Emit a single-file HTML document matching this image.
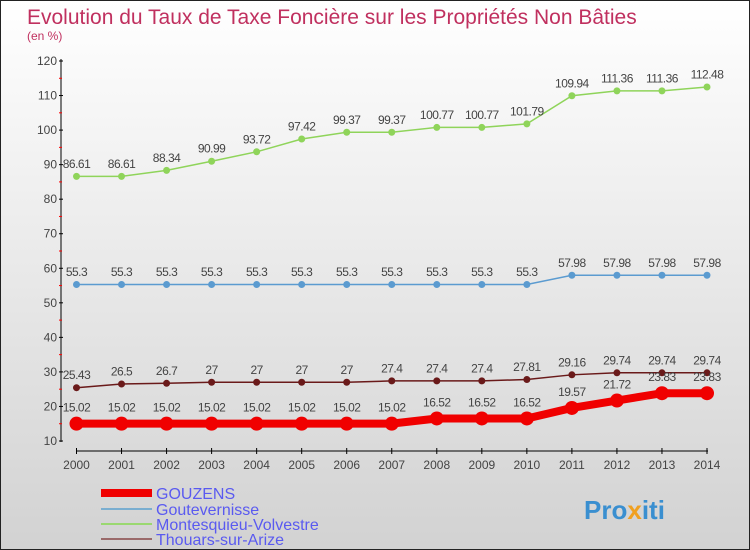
<!DOCTYPE html>
<html><head><meta charset="utf-8"><style>
body{margin:0}
#c{width:750px;height:550px;position:relative;overflow:hidden;background:linear-gradient(#fff,#d2d2d2);border:1px solid #222;box-sizing:border-box;font-family:"Liberation Sans",sans-serif}
</style></head><body>
<div id="c">
<svg id="s" width="750" height="550" style="position:absolute;left:0;top:0">
<text x="26" y="23" font-size="21" fill="#c0305f">Evolution du Taux de Taxe Foncière sur les Propriétés Non Bâties</text>
<text x="26" y="39" font-size="12" fill="#c0305f">(en %)</text>
<text x="583" y="518" font-size="26" font-weight="bold" fill="#3a8fd0">Pro<tspan fill="#f0a020">x</tspan>iti</text>
</svg>
</div>
<script>
const years=[2000,2001,2002,2003,2004,2005,2006,2007,2008,2009,2010,2011,2012,2013,2014];
const gouzens=[15.02,15.02,15.02,15.02,15.02,15.02,15.02,15.02,16.52,16.52,16.52,19.57,21.72,23.83,23.83];
const goutevernisse=[55.3,55.3,55.3,55.3,55.3,55.3,55.3,55.3,55.3,55.3,55.3,57.98,57.98,57.98,57.98];
const montesquieu=[86.61,86.61,88.34,90.99,93.72,97.42,99.37,99.37,100.77,100.77,101.79,109.94,111.36,111.36,112.48];
const thouars=[25.43,26.5,26.7,27,27,27,27,27.4,27.4,27.4,27.81,29.16,29.74,29.74,29.74];
const yTicks=[10,20,30,40,50,60,70,80,90,100,110,120];
const seriesNames=["GOUZENS","Goutevernisse","Montesquieu-Volvestre","Thouars-sur-Arize"];
const s=document.getElementById('s');
const NS='http://www.w3.org/2000/svg';
function xs(i){return 75.5+i*(706-75.5)/(years.length-1);}
function ys(v){return 440-(v-10)*380/110;}
function mk(t,a){const e=document.createElementNS(NS,t);for(const k in a)e.setAttribute(k,a[k]);s.appendChild(e);return e;}
let e=mk('line',{x1:60,y1:58,x2:60,y2:441,stroke:'#000','stroke-width':1});


e=mk('line',{x1:75,y1:450,x2:707,y2:450,stroke:'#000','stroke-width':1});


yTicks.forEach((v,i)=>{
 mk('line',{x1:58,x2:62,y1:ys(v),y2:ys(v),stroke:'#000'});
 if(i<yTicks.length-1)mk('line',{x1:58,x2:61,y1:ys(v+5),y2:ys(v+5),stroke:'#f00'});
 const t=mk('text',{x:56,y:ys(v)+4,'font-size':12,fill:'#444','text-anchor':'end'});t.textContent=v;
 
 
});
years.forEach((y,i)=>{
 mk('line',{x1:xs(i),x2:xs(i),y1:447,y2:453,stroke:'#000'});
 const t=mk('text',{x:xs(i),y:468,'font-size':12,fill:'#444','text-anchor':'middle'});t.textContent=y;
 
 
});
function series(data,color,w,r,name){
 const p=mk('polyline',{points:data.map((v,i)=>xs(i)+','+ys(v)).join(' '),fill:'none',stroke:color,'stroke-width':w});
 
 
 data.forEach((v,i)=>{
  const c=mk('circle',{cx:xs(i),cy:ys(v),r:r,fill:color});
  
  
  const t=mk('text',{x:xs(i),y:ys(v)-(r+5),'font-size':12,fill:'#444','text-anchor':'middle','letter-spacing':'-0.5'});t.textContent=v;
  
  
 });
}
series(montesquieu,'#8fd45a',1.5,3.5,'montesquieu');
series(goutevernisse,'#5b9bd0',1.5,3.5,'goutevernisse');
series(thouars,'#6a1a1a',1.5,3.5,'thouars');
series(gouzens,'#f00000',8,7,'gouzens');
const lc=['#f00000','#7aaed0','#9ad870','#9a6a6a'],lw=[8,2,2,2],ly=[492,508,523,538];
seriesNames.forEach((n,i)=>{
 const l=mk('line',{x1:100,x2:151,y1:ly[i],y2:ly[i],stroke:lc[i],'stroke-width':lw[i]});
 
 
 const t=mk('text',{x:155,y:ly[i]+6,'font-size':16,fill:'#5a5af0'});t.textContent=n;
 
 
});
</script>
</body></html>
